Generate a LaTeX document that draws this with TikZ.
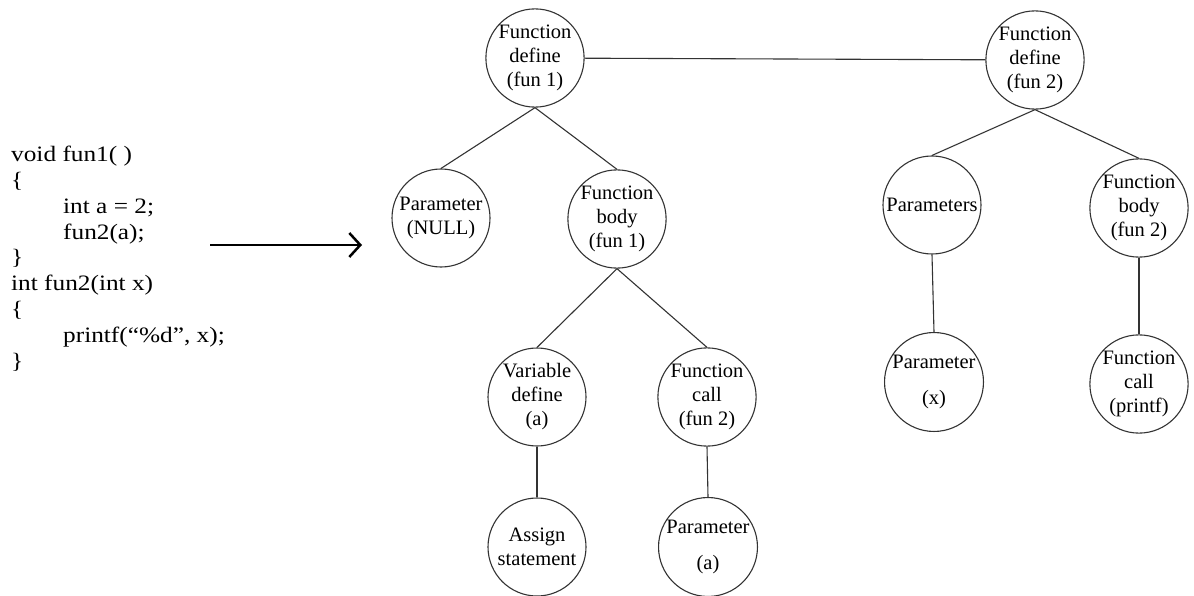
\documentclass[tikz,border=0pt]{standalone}
\usepackage{fontspec}
\setmainfont{Liberation Serif}
\newfontfamily\codefont[FakeStretch=1.15]{Liberation Serif}
\usetikzlibrary{arrows.meta}

\begin{document}
\begin{tikzpicture}[x=1pt, y=-1pt, >={Straight Barb[length=11pt,width=24pt]},
    treenode/.style={circle, draw=black!80, line width=1.1pt, minimum size=98pt, inner sep=0pt, align=center, font=\fontsize{20.5}{24}\selectfont},
    treeline/.style={draw=black!80, line width=1.1pt}]
    \useasboundingbox (0,0) rectangle (1194,596);
    \node(code)[anchor=north west, inner sep=0pt, align=left, font=\codefont\fontsize{22}{25.8}\selectfont] at (11,146)
        {void fun1( )\\ \{\\ \hspace*{52pt}int a = 2;\\ \hspace*{52pt}fun2(a);\\ \}\\ int fun2(int x)\\ \{\\ \hspace*{52pt}printf(“\%d”, x);\\ \}};
    \coordinate(arrstart) at (210,245);
    \coordinate(arrend) at (362,245);
    \draw[->, line width=2.5pt] (arrstart)--(arrend);
    \node(fd1)[treenode] at (535,58) {Function\\define\\(fun 1)};
    \node(fd2)[treenode] at (1035,60) {Function\\define\\(fun 2)};
    \node(parnull)[treenode] at (441,218) {Parameter\\(NULL)};
    \node(fb1)[treenode] at (617,219) {Function\\body\\(fun 1)};
    \node(pars)[treenode] at (932,205) {Parameters};
    \node(fb2)[treenode] at (1139,208) {Function\\body\\(fun 2)};
    \node(vda)[treenode] at (537,397) {Variable\\define\\(a)};
    \node(fcfun)[treenode] at (707,397) {Function\\call\\(fun 2)};
    \node(assign)[treenode] at (537,547) {Assign\\statement};
    \node(para)[treenode] at (708,547) {Parameter\\[12pt](a)};
    \node(parx)[treenode] at (934,382) {Parameter\\[12pt](x)};
    \node(fcprintf)[treenode] at (1139,384) {Function\\call\\(printf)};
    \draw[treeline] (fd1)--(fd2);
    \draw[treeline] (fd1.south)--(parnull.north);
    \draw[treeline] (fd1.south)--(fb1.north);
    \draw[treeline] (fd2.south)--(pars.north);
    \draw[treeline] (fd2.south)--(fb2.north);
    \draw[treeline] (fb1.south)--(vda.north);
    \draw[treeline] (fb1.south)--(fcfun.north);
    \draw[treeline] (vda.south)--(assign.north);
    \draw[treeline] (fcfun.south)--(para.north);
    \draw[treeline] (pars.south)--(parx.north);
    \draw[treeline] (fb2.south)--(fcprintf.north);
    \end{tikzpicture}
\end{document}
